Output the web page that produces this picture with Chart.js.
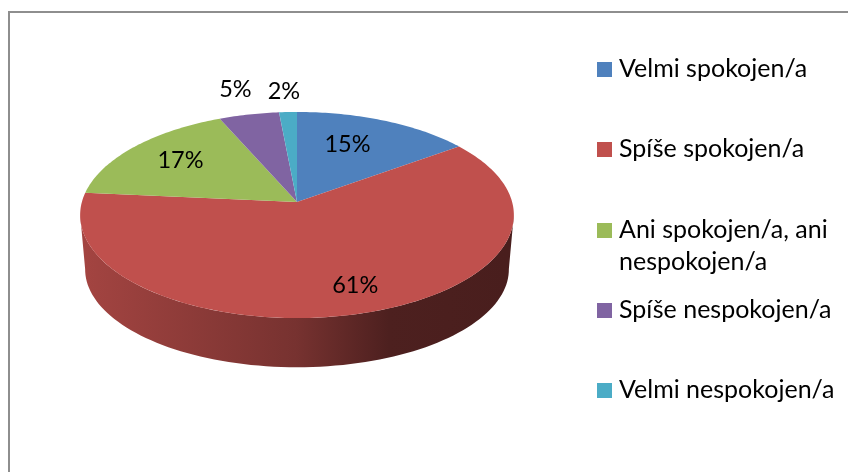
<!DOCTYPE html>
<html>
<head>
<meta charset="utf-8">
<title>Spokojenost</title>
<script src="https://cdn.jsdelivr.net/npm/chart.js@4"></script>
<style>
    html, body { margin: 0; padding: 0; background: #fff; }
    #box { position: relative; width: 848px; height: 472px; overflow: hidden; }
    #frame { position: absolute; left: 8px; top: 11px; right: -4px; bottom: -4px; border: 2px solid #8e8e8e; }
    canvas { position: absolute; left: 0; top: 0; }
</style>
</head>
<body>
<div id="box">
    <div id="frame"></div>
    <canvas id="pie" width="848" height="472"></canvas>
</div>
<script>
// Data
const categories = ['Velmi spokojen/a', 'Spíše spokojen/a', 'Ani spokojen/a, ani nespokojen/a', 'Spíše nespokojen/a', 'Velmi nespokojen/a'];
const values = [15, 61.49, 16.95, 5.06, 1.5];
const colors = ['#4F81BD', '#C0504D', '#9BBB59', '#8064A2', '#4BACC6'];

// Percentage labels sit along each slice's middle angle
const labelRadius = [0.69, 0.77, 0.732, 1.34, 1.27];
const labelShift = [-12, 10, 4.5, 0.5, -2];

// Legend rows (y of swatch top), the long one wraps on two lines
const legendRows = [62, 142, 223, 303, 383];
const legendLines = [['Velmi spokojen/a'], ['Spíše spokojen/a'], ['Ani spokojen/a, ani', 'nespokojen/a'], ['Spíše nespokojen/a'], ['Velmi nespokojen/a']];

const LEGEND_FONT = "25px Lato, 'Open Sans', sans-serif";
const LABEL_FONT = "23.5px Lato, 'Open Sans', sans-serif";

// Tilted view of the pie: flat circle -> perspective ellipse
const TILT = { sx: 1.065, sy: 0.502, persp: -0.1262 };
const WALL = { sx: 0.977, sy: 0.95, drop: 55 };

function project(arc, t, r) {
    const R = arc.outerRadius;
    const den = 1 + TILT.persp * r * Math.sin(t);
    return {
        x: arc.x + R * TILT.sx * r * Math.cos(t) / den,
        y: arc.y + R * TILT.sy * r * Math.sin(t) / den
    };
}

function shade(hex, k) {
    const n = parseInt(hex.slice(1), 16);
    const c = [n >> 16, (n >> 8) & 255, n & 255].map(v => Math.round(v * k));
    return 'rgb(' + c.join(',') + ')';
}

// Side wall of one slice, only the part facing the viewer
function drawWall(ctx, arc) {
    const frontA = 7 * Math.PI / 180, frontB = 173 * Math.PI / 180;
    const from = Math.max(arc.startAngle, frontA);
    const to = Math.min(arc.endAngle, frontB);
    if (to <= from) return;
    const steps = 90;
    ctx.beginPath();
    for (let i = 0; i <= steps; i++) {
        const p = project(arc, from + (to - from) * i / steps, 1);
        if (i === 0) ctx.moveTo(p.x, p.y); else ctx.lineTo(p.x, p.y);
    }
    for (let i = steps; i >= 0; i--) {
        const p = project(arc, from + (to - from) * i / steps, 1);
        ctx.lineTo(arc.x + (p.x - arc.x) * WALL.sx, arc.y + (p.y - arc.y) * WALL.sy + WALL.drop);
    }
    ctx.closePath();
    const base = arc.options.backgroundColor;
    const g = ctx.createLinearGradient(85, 0, 507, 0);
    g.addColorStop(0, shade(base, 0.85));
    g.addColorStop(0.5, shade(base, 0.62));
    g.addColorStop(0.72, shade(base, 0.4));
    g.addColorStop(1, shade(base, 0.38));
    ctx.fillStyle = g;
    ctx.fill();
}

function drawTop(ctx, arc) {
    const steps = Math.max(4, Math.ceil((arc.endAngle - arc.startAngle) * 60));
    ctx.beginPath();
    ctx.moveTo(arc.x, arc.y);
    for (let i = 0; i <= steps; i++) {
        const p = project(arc, arc.startAngle + (arc.endAngle - arc.startAngle) * i / steps, 1);
        ctx.lineTo(p.x, p.y);
    }
    ctx.closePath();
    ctx.fillStyle = arc.options.backgroundColor;
    ctx.fill();
}

const tiltedPie = {
    id: 'tiltedPie',
    beforeDatasetDraw(chart, args) {
        const ctx = chart.ctx;
        const arcs = args.meta.data;
        ctx.save();
        arcs.forEach(a => drawWall(ctx, a));
        arcs.forEach(a => drawTop(ctx, a));
        ctx.restore();
        return false;
    },
    afterDatasetsDraw(chart) {
        const ctx = chart.ctx;
        const arcs = chart.getDatasetMeta(0).data;
        ctx.save();
        ctx.font = LABEL_FONT;
        ctx.fillStyle = '#000';
        ctx.textBaseline = 'middle';
        ctx.textAlign = 'center';
        arcs.forEach((a, i) => {
            const mid = (a.startAngle + a.endAngle) / 2;
            const p = project(a, mid, labelRadius[i]);
            ctx.fillText(Math.round(values[i]) + '%', p.x + labelShift[i], p.y);
        });
        // legend
        ctx.font = LEGEND_FONT;
        ctx.textAlign = 'left';
        ctx.textBaseline = 'alphabetic';
        legendRows.forEach((y, i) => {
            ctx.fillStyle = colors[i];
            ctx.fillRect(597, y, 15, 15);
            ctx.fillStyle = '#000';
            legendLines[i].forEach((line, j) => ctx.fillText(line, 619, y + 15 + j * 32));
        });
        ctx.restore();
    }
};

new Chart(document.getElementById('pie'), {
    type: 'pie',
    data: {
        labels: categories,
        datasets: [{ data: values, backgroundColor: colors, borderWidth: 0 }]
    },
    options: {
        responsive: false,
        animation: false,
        layout: { padding: { right: 254, bottom: 68 } },
        plugins: { legend: { display: false }, tooltip: { enabled: false } }
    },
    plugins: [tiltedPie]
});
</script>
</body>
</html>
